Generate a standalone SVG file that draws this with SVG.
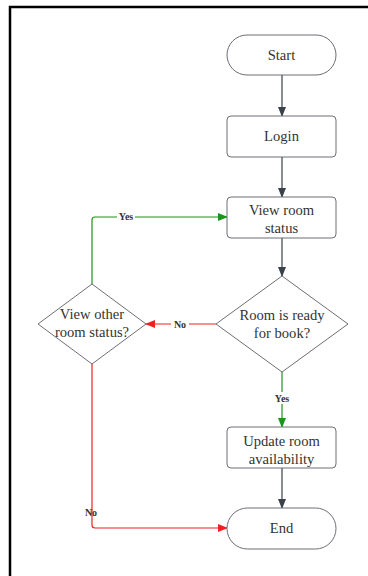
<svg xmlns="http://www.w3.org/2000/svg" width="368" height="576" viewBox="0 0 368 576">
<defs>
<style>
.node{fill:#fff;stroke:#6b6f75;stroke-width:1}
.t{font-family:"Liberation Serif","Times New Roman",serif;font-size:14.6px;fill:#333;text-anchor:middle;dominant-baseline:central}
.lbl{font-family:"Liberation Serif","Times New Roman",serif;font-size:10px;font-weight:bold;fill:#333;text-anchor:middle;dominant-baseline:central}
.c{fill:none;stroke-width:1.2}
.dark{stroke:#3a414a}
.green{stroke:#1a961a}
.red{stroke:#ee2222}
.bg{fill:#fff}
</style>
<marker id="ad" markerWidth="10" markerHeight="10" refX="9" refY="5" orient="auto" markerUnits="userSpaceOnUse"><path d="M0,1 L10,5 L0,9 Z" fill="#3a414a"/></marker>
<marker id="ag" markerWidth="10" markerHeight="10" refX="9" refY="5" orient="auto" markerUnits="userSpaceOnUse"><path d="M0,1 L10,5 L0,9 Z" fill="#1a961a"/></marker>
<marker id="ar" markerWidth="10" markerHeight="10" refX="9" refY="5" orient="auto" markerUnits="userSpaceOnUse"><path d="M0,1 L10,5 L0,9 Z" fill="#ee2222"/></marker>
</defs>
<rect x="0" y="0" width="368" height="576" fill="#fff"/>
<path d="M10,590 L10,7 L380,7" fill="none" stroke="#000" stroke-width="2.5"/>
<g id="connectors">
<path class="c dark" d="M282,75 L282,116" marker-end="url(#ad)"/>
<path class="c dark" d="M282,157 L282,197" marker-end="url(#ad)"/>
<path class="c dark" d="M282,238 L282,276" marker-end="url(#ad)"/>
<path class="c red" d="M216,324 L146,324" marker-end="url(#ar)"/>
<path class="c green" d="M282,372 L282,427" marker-end="url(#ag)"/>
<path class="c green" d="M92,284 L92,220 Q92,217 95,217 L227,217" marker-end="url(#ag)"/>
<path class="c red" d="M92,363 L92,525 Q92,528 95,528 L227,528" marker-end="url(#ar)"/>
<path class="c dark" d="M282,468 L282,508" marker-end="url(#ad)"/>
<rect class="bg" x="171" y="318" width="18" height="12"/>
<text class="lbl" x="180" y="324">No</text>
<rect class="bg" x="272" y="392" width="20" height="12"/>
<text class="lbl" x="282" y="398">Yes</text>
<rect class="bg" x="117" y="211" width="18" height="11"/>
<text class="lbl" x="126" y="216">Yes</text>
<text class="lbl" x="91" y="512">No</text>
</g>
<g id="start"><rect class="node" x="227" y="35" width="109" height="40" rx="20"/><text class="t" x="281.5" y="55">Start</text></g>
<g id="login"><rect class="node" x="227" y="116" width="109" height="41" rx="4"/><text class="t" x="281.5" y="136">Login</text></g>
<g id="view"><rect class="node" x="227" y="197" width="109" height="41" rx="4"/><text class="t" x="281.5" y="210">View room</text><text class="t" x="281.5" y="228">status</text></g>
<g id="ready"><path class="node" d="M282,276 L348,324 L282,372 L216,324 Z"/><text class="t" x="282" y="315">Room is ready</text><text class="t" x="282" y="333">for book?</text></g>
<g id="other"><path class="node" d="M92,284 L146,324 L92,364 L38,324 Z"/><text class="t" x="92" y="314">View other</text><text class="t" x="92" y="332">room status?</text></g>
<g id="update"><rect class="node" x="227" y="427" width="109" height="41" rx="4"/><text class="t" x="281.5" y="441">Update room</text><text class="t" x="281.5" y="459">availability</text></g>
<g id="end"><rect class="node" x="227" y="508" width="109" height="41" rx="20.5"/><text class="t" x="281.5" y="528">End</text></g>
</svg>
